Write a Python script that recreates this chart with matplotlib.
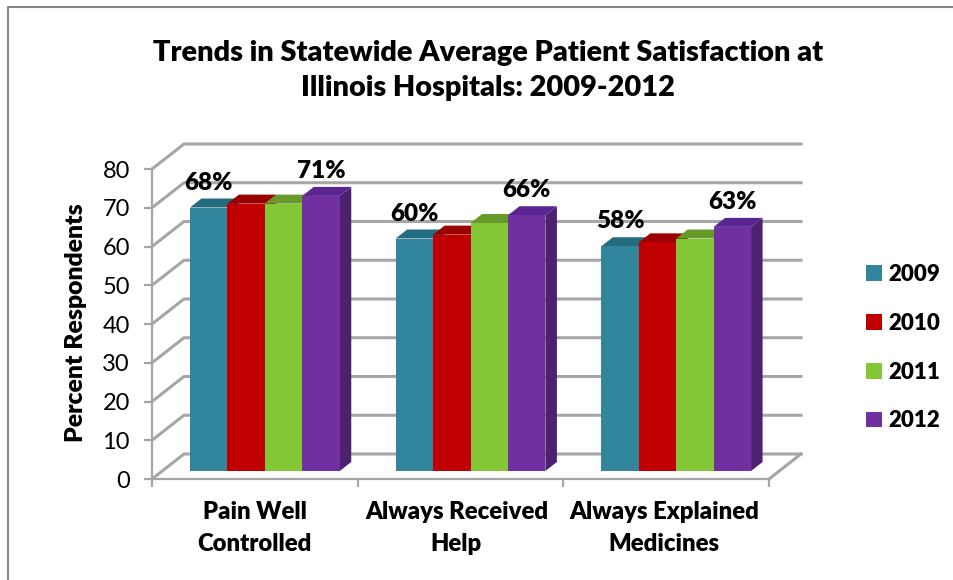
import matplotlib
matplotlib.use("Agg")
import matplotlib.pyplot as plt
import numpy as np
from matplotlib.patches import Polygon
from matplotlib.transforms import Affine2D

plt.rcParams['font.family'] = ['Lato', 'DejaVu Sans']
plt.rcParams['font.weight'] = 'heavy'

categories = ['Pain Well\nControlled', 'Always Received\nHelp', 'Always Explained\nMedicines']
years = ['2009', '2010', '2011', '2012']
v2009 = [68, 60, 58]
v2010 = [69, 61, 59]
v2011 = [69, 64, 60]
v2012 = [71, 66, 63]
y_ticks = [0, 10, 20, 30, 40, 50, 60, 70, 80]

front = ['#31859C', '#C00000', '#83C636', '#7030A0']
top = ['#266C80', '#9A0000', '#669A2A', '#5A2590']
side = ['#215C6D', '#800000', '#557F22', '#4B2170']
grid_c = '#A6A6A6'

W, H = 954, 580
fig = plt.figure(figsize=(W / 100, H / 100), dpi=100)
# front floor edge of the 3d box is x 152-769, y=0 at 479, y=80 at 169
ax = fig.add_axes([152 / W, (H - 479) / H, 617 / W, 310 / H])
ax.set_xlim(0, 3)
ax.set_ylim(0, 80)

# oblique depth, in data units (32px right, 25px up at the back wall)
DX = 32 / (617 / 3)
DY = 25 / (310 / 80)


def proj(x, y, d):
    return (x + d * DX, y + d * DY)


# walls
for t in y_ticks:
    p0 = proj(0, t, 0)
    p1 = proj(0, t, 1)
    p2 = proj(3, t, 1)
    ax.plot([p0[0], p1[0], p2[0]], [p0[1], p1[1], p2[1]], color=grid_c, lw=2.2,
            clip_on=False, zorder=1, solid_joinstyle='miter')
p0 = proj(3, 0, 0)
p1 = proj(3, 0, 1)
ax.plot([p0[0], p1[0]], [p0[1], p1[1]], color=grid_c, lw=2.2, clip_on=False, zorder=1)

# bars
d0, d1 = 0.32, 0.68
bar_w = 0.182
start = 0.135
series = [v2009, v2010, v2011, v2012]
for i, vals in enumerate(series):
    xs = np.arange(3) + start + i * bar_w
    for x, v in zip(xs, vals):
        ax.add_patch(Polygon([proj(x + bar_w, 0, d0), proj(x + bar_w, 0, d1),
                              proj(x + bar_w, v, d1), proj(x + bar_w, v, d0)],
                             fc=side[i], ec='none', zorder=3 + i, clip_on=False))
        ax.add_patch(Polygon([proj(x, v, d0), proj(x, v, d1),
                              proj(x + bar_w, v, d1), proj(x + bar_w, v, d0)],
                             fc=top[i], ec='none', zorder=3 + i, clip_on=False))
    shift = ax.transData + Affine2D().translate(d0 * 32, d0 * 25)
    ax.bar(xs, vals, width=bar_w, align='edge', color=front[i], label=years[i],
           transform=shift, zorder=3 + i, clip_on=False)

# data labels on the first and last bar of each group
for i, vals in [(0, v2009), (3, v2012)]:
    for k, v in enumerate(vals):
        x, y = proj(k + start + (i + 0.5) * bar_w, v, d0)
        ax.annotate(f'{v}%', (x, y), xytext=(0, 18), textcoords='offset points',
                    ha='center', va='center', fontsize=17.5, color='black', zorder=10,
                    annotation_clip=False)

for s in ['top', 'right']:
    ax.spines[s].set_visible(False)
for s in ['left', 'bottom']:
    ax.spines[s].set_color(grid_c)
    ax.spines[s].set_linewidth(1.6)
ax.set_yticks(y_ticks)
ax.set_xticks([0, 1, 2, 3])
ax.set_xticklabels([])
ax.set_xticks([0.5, 1.48, 2.49], minor=True)
ax.set_xticklabels(categories, minor=True, fontsize=17.2, linespacing=1.55)
ax.tick_params(axis='x', which='minor', length=0, pad=16)
ax.tick_params(axis='x', which='major', length=6, width=1.6, color=grid_c)
ax.tick_params(axis='y', length=6, width=1.6, color=grid_c, labelsize=17, pad=10)
for lab in ax.get_yticklabels():
    lab.set_fontweight('normal')
ax.set_ylabel('Percent Respondents', fontsize=17.8, fontweight='heavy', labelpad=11, y=0.505)

ax.legend(loc='upper left', bbox_to_anchor=(866 / W, (H - 264) / H),
          bbox_transform=fig.transFigure, frameon=False, fontsize=16, ncol=1,
          handlelength=0.7, handleheight=0.7, handletextpad=0.3, labelspacing=1.25,
          borderpad=0, borderaxespad=0)

fig.text(488 / W, (H - 70.5) / H,
         'Trends in Statewide Average Patient Satisfaction at\nIllinois Hospitals: 2009-2012',
         ha='center', va='center', fontsize=20.8, linespacing=1.42, color='black')

# chart frame
fig.add_artist(plt.Line2D([8.5 / W, 8.5 / W, 1], [0, (H - 6.5) / H, (H - 6.5) / H],
                          color='#868686', lw=1.5, transform=fig.transFigure))

fig.savefig('out.png', dpi=100)
